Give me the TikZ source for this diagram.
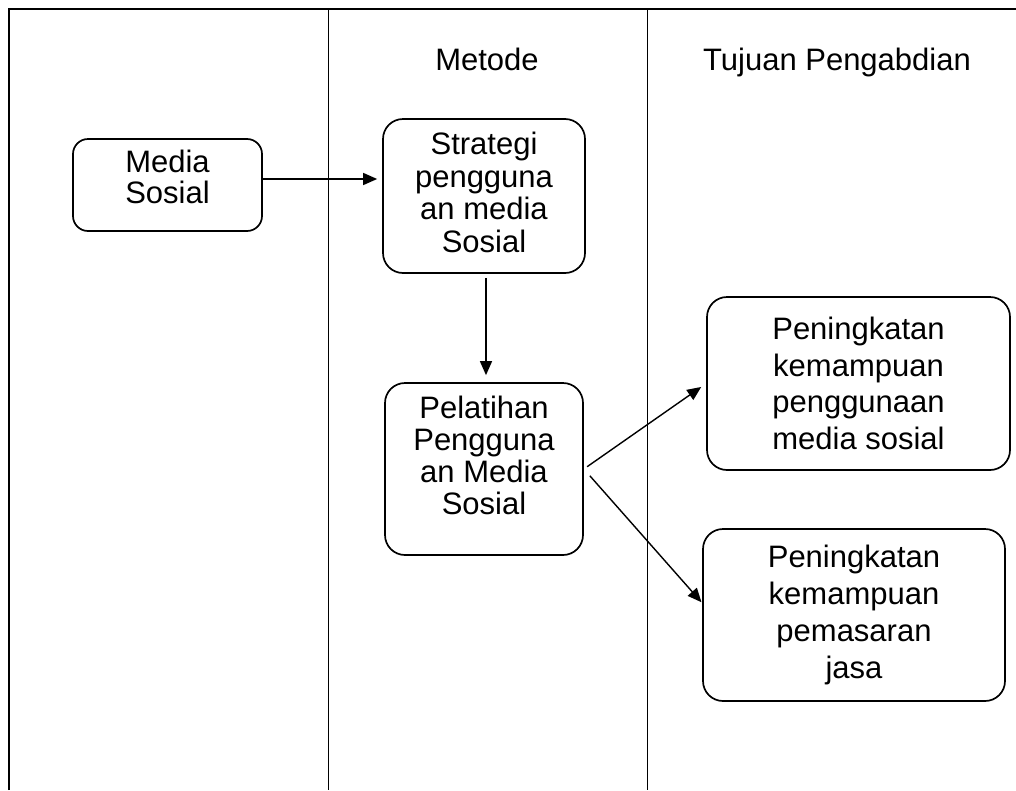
\documentclass[tikz,border=0pt]{standalone}
\usepackage{fontspec}
\setmainfont{Liberation Sans}
\usetikzlibrary{arrows.meta}
\newcommand{\tdp}[1]{\rule[-#1pt]{0pt}{0pt}}
\begin{document}
\begin{tikzpicture}[x=1pt,y=-1pt,
  box/.style={draw, line width=1.7pt, rounded corners=20pt, align=center, inner sep=0pt},
  arr/.style={line width=1.4pt, -{Triangle[length=14pt,width=12pt]}},
  frameline/.style={line width=2pt},
  colline/.style={line width=1pt},
  head/.style={font=\fontsize{31}{37}\selectfont, anchor=base, inner sep=0pt}]
\useasboundingbox (0,0) rectangle (1016,790);
% frame and columns
\draw[frameline] (9,790) -- (9,9) -- (1016,9);
\draw[colline] (328,9) -- (328,790);
\draw[colline] (647,9) -- (647,790);
% headers
\node[head] (hm) at (487,70) {Metode};
\node[head] (ht) at (837,70) {Tujuan Pengabdian};
% boxes
\node[box, rounded corners=15pt, minimum width=189pt, minimum height=92pt,
      font=\fontsize{31}{31}\selectfont] (ms) at (167.5,185) {Media\\Sosial\tdp{15.6}};
\node[box, minimum width=202pt, minimum height=154pt,
      font=\fontsize{31}{32.5}\selectfont] (st) at (484,196) {Strategi\\pengguna\\an media\\Sosial\tdp{7.6}};
\node[box, minimum width=198pt, minimum height=172pt,
      font=\fontsize{31}{32}\selectfont] (pel) at (484,469) {Pelatihan\\Pengguna\\an Media\\Sosial\tdp{26.6}};
\node[box, minimum width=303pt, minimum height=173pt,
      font=\fontsize{31}{36.7}\selectfont] (b1) at (858.5,383.5) {Peningkatan\\kemampuan\\penggunaan\\media sosial};
\node[box, minimum width=302pt, minimum height=172pt,
      font=\fontsize{31}{37}\selectfont] (b2) at (854,615) {Peningkatan\\kemampuan\\pemasaran\\jasa};
% connectors
\draw[arr, shorten >=5pt] ([yshift=6pt]ms.east) -- ([yshift=6pt]ms.east -| st.west);
\draw[arr, shorten <=4pt, shorten >=7pt] ([xshift=2pt]st.south) -- ([xshift=2pt]pel.north);
\draw[arr, shorten <=4pt, shorten >=6pt] (pel.east) -- (b1.west);
\draw[arr, shorten <=9pt, shorten >=1pt] (pel.east) -- ([yshift=12pt]b2.west);
\end{tikzpicture}
\end{document}
